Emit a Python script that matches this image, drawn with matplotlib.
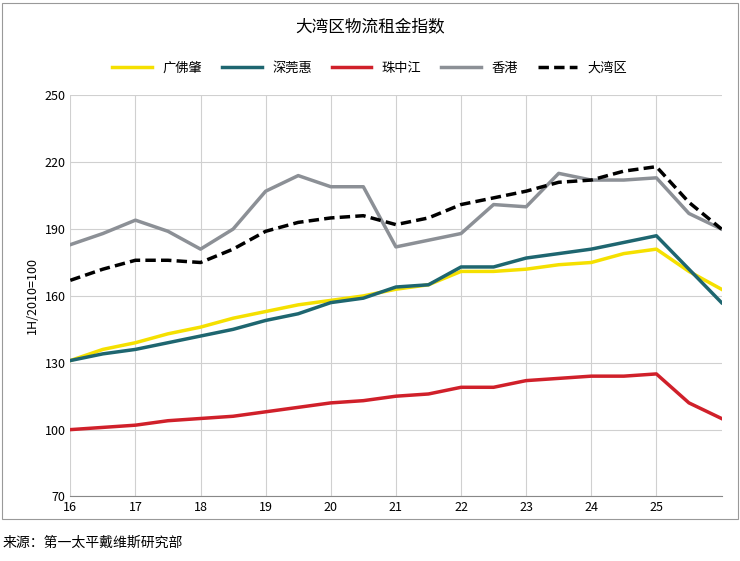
import matplotlib.pyplot as plt
from matplotlib.patches import Rectangle

plt.rcParams['font.family'] = ['Noto Sans CJK SC', 'DejaVu Sans']

years = ['16', '17', '18', '19', '20', '21', '22', '23', '24', '25']
hk = [183, 188, 194, 189, 181, 190, 207, 214, 209, 209, 182, 185, 188, 201, 200, 215, 212, 212, 213, 197, 190]
gba = [167, 172, 176, 176, 175, 181, 189, 193, 195, 196, 192, 195, 201, 204, 207, 211, 212, 216, 218, 202, 190]
szdh = [131, 134, 136, 139, 142, 145, 149, 152, 157, 159, 164, 165, 173, 173, 177, 179, 181, 184, 187, 172, 157]
gfz = [131, 136, 139, 143, 146, 150, 153, 156, 158, 160, 163, 165, 171, 171, 172, 174, 175, 179, 181, 171, 163]
zzj = [100, 101, 102, 104, 105, 106, 108, 110, 112, 113, 115, 116, 119, 119, 122, 123, 124, 124, 125, 112, 105]

x = list(range(len(hk)))
fig = plt.figure(figsize=(7.4, 5.61), dpi=100)
ax = fig.add_axes([0.095, 0.115, 0.88, 0.715])

ax.plot(x, gfz, color='#f5e000', lw=2.5, label='广佛肇')
ax.plot(x, szdh, color='#1e6670', lw=2.5, label='深莞惠')
ax.plot(x, zzj, color='#d0202a', lw=2.5, label='珠中江')
ax.plot(x, hk, color='#8c9096', lw=2.5, label='香港')
ax.plot(x, gba, color='black', lw=2.5, ls=(0, (3, 1.5)), label='大湾区')

ax.set_xlim(0, 20)
ax.set_ylim(70, 250)
ax.set_yticks(range(70, 251, 30))
ax.set_xticks(range(0, 20, 2))
ax.set_xticklabels(years)
ax.grid(True, color='#d0d0d0', lw=0.8)
ax.tick_params(length=0, labelsize=9)
for s in ax.spines.values():
    s.set_visible(False)
ax.spines['bottom'].set_visible(True)
ax.spines['bottom'].set_color('#888888')
ax.set_ylabel('1H/2010=100', fontsize=9)

fig.text(0.5, 0.945, '大湾区物流租金指数', ha='center', fontsize=12)
fig.legend(loc='center', bbox_to_anchor=(0.5, 0.878), ncol=5, frameon=False,
           fontsize=9.5, handlelength=3, columnspacing=1.5)
fig.text(0.003, 0.025, '来源：第一太平戴维斯研究部', fontsize=10)
fig.add_artist(Rectangle((0.003, 0.075), 0.994, 0.92, transform=fig.transFigure,
                         fill=False, edgecolor='#999999', lw=0.8))

fig.savefig('out.png', dpi=100)
